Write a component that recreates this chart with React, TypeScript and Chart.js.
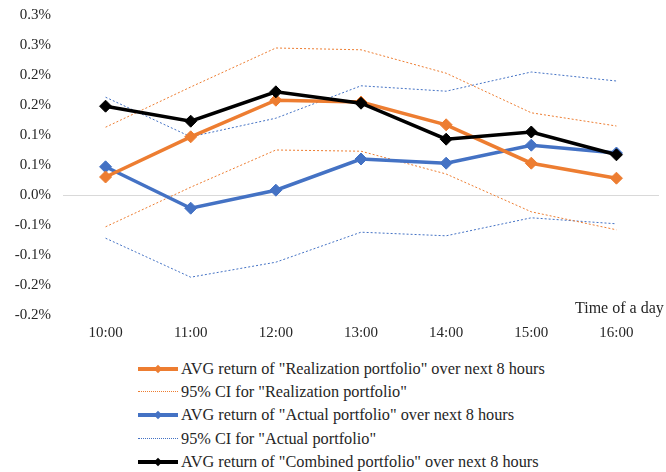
import React, { useRef, useEffect } from "react";
import { Chart, registerables } from "chart.js";

Chart.register(...registerables);

const HOURS = ["10:00", "11:00", "12:00", "13:00", "14:00", "15:00", "16:00"];

// values in percent
const REAL_AVG = [0.03, 0.097, 0.158, 0.155, 0.117, 0.053, 0.028];
const REAL_CI_HI = [0.113, 0.18, 0.245, 0.242, 0.203, 0.137, 0.115];
const REAL_CI_LO = [-0.053, 0.013, 0.075, 0.073, 0.035, -0.028, -0.058];
const ACT_AVG = [0.047, -0.022, 0.008, 0.06, 0.053, 0.083, 0.07];
const ACT_CI_HI = [0.163, 0.097, 0.128, 0.182, 0.173, 0.205, 0.19];
const ACT_CI_LO = [-0.072, -0.137, -0.112, -0.062, -0.068, -0.038, -0.048];
const COMB_AVG = [0.148, 0.123, 0.172, 0.153, 0.093, 0.105, 0.067];

const Y_TICK_LABELS = ["-0.2%", "-0.2%", "-0.1%", "-0.1%", "0.0%", "0.1%", "0.1%", "0.2%", "0.2%", "0.3%", "0.3%"];

const ORANGE = "#ED7D31";
const BLUE = "#4472C4";
const BLACK = "#000000";
const FONT = '"Liberation Serif", "Times New Roman", serif';

const LEGEND = [
  { label: 'AVG return of "Realization portfolio" over next 8 hours', color: ORANGE, thick: true },
  { label: '95% CI for "Realization portfolio"', color: ORANGE, thick: false },
  { label: 'AVG return of "Actual portfolio" over next 8 hours', color: BLUE, thick: true },
  { label: '95% CI for "Actual portfolio"', color: BLUE, thick: false },
  { label: 'AVG return of "Combined portfolio" over next 8 hours', color: BLACK, thick: true },
];

Chart.defaults.font.family = FONT;

function mainLine(data: number[], color: string, order: number) {
  return {
    data,
    borderColor: color,
    backgroundColor: color,
    borderWidth: 3.5,
    pointStyle: "rectRot" as const,
    pointRadius: 6,
    pointBorderWidth: 1,
    order,
  };
}

function ciLine(data: number[], color: string) {
  return {
    data,
    borderColor: color,
    borderWidth: 1,
    borderDash: [2, 2],
    pointRadius: 0,
    order: 5,
  };
}

function LegendSwatch({ color, thick }: { color: string; thick: boolean }) {
  if (!thick) {
    return <div style={{ width: 40, height: 0, borderTop: `1px dotted ${color}` }} />;
  }
  return (
    <div style={{ position: "relative", width: 40, height: 4 }}>
      <div style={{ position: "absolute", left: 0, top: 0, width: 40, height: 4, background: color }} />
      <div
        style={{
          position: "absolute",
          left: 17,
          top: -1,
          width: 6,
          height: 6,
          background: color,
          transform: "rotate(45deg)",
        }}
      />
    </div>
  );
}

export default function App() {
  const canvasRef = useRef<HTMLCanvasElement>(null);

  useEffect(() => {
    document.body.style.margin = "0";
    if (!canvasRef.current) return;
    const chart = new Chart(canvasRef.current, {
      type: "line",
      data: {
        labels: HOURS,
        datasets: [
          mainLine(COMB_AVG, BLACK, 0),
          mainLine(REAL_AVG, ORANGE, 1),
          mainLine(ACT_AVG, BLUE, 2),
          ciLine(REAL_CI_HI, ORANGE),
          ciLine(REAL_CI_LO, ORANGE),
          ciLine(ACT_CI_HI, BLUE),
          ciLine(ACT_CI_LO, BLUE),
        ] as any,
      },
      options: {
        animation: false,
        responsive: false,
        devicePixelRatio: 1,
        layout: { padding: { top: 15, right: 6, left: 0, bottom: 0 } },
        plugins: { legend: { display: false }, tooltip: { enabled: false } },
        scales: {
          x: {
            offset: true,
            grid: { display: false },
            border: { display: false },
            ticks: { color: "#262626", font: { family: FONT, size: 15 }, padding: 1 },
            afterFit: (s: any) => {
              s.height = 32;
            },
          },
          y: {
            min: -0.2,
            max: 0.3,
            border: { display: false },
            grid: {
              drawTicks: false,
              color: (ctx: any) => (Math.abs(ctx.tick.value) < 1e-9 ? "#d9d9d9" : "transparent"),
            },
            ticks: {
              stepSize: 0.05,
              padding: 12,
              color: "#262626",
              font: { family: FONT, size: 15 },
              callback: (_v: any, i: number) => Y_TICK_LABELS[i],
            },
            afterFit: (s: any) => {
              s.width = 63;
              s.paddingTop = 0;
              s.paddingBottom = 0;
            },
          },
        },
      },
    });
    return () => chart.destroy();
  }, []);

  return (
    <div style={{ position: "relative", width: 666, height: 472, background: "#fff", fontFamily: FONT, overflow: "hidden" }}>
      <canvas ref={canvasRef} width={666} height={347} style={{ position: "absolute", left: 0, top: 0 }} />
      <div style={{ position: "absolute", left: 575, top: 299, fontSize: 16, color: "#262626", whiteSpace: "nowrap" }}>
        Time of a day
      </div>
      <div style={{ position: "absolute", left: 138, top: 357 }}>
        {LEGEND.map((l) => (
          <div key={l.label} style={{ display: "flex", alignItems: "center", height: 23.3 }}>
            <LegendSwatch color={l.color} thick={l.thick} />
            <span style={{ marginLeft: 3, fontSize: 16.3, color: "#262626", whiteSpace: "nowrap" }}>{l.label}</span>
          </div>
        ))}
      </div>
    </div>
  );
}
